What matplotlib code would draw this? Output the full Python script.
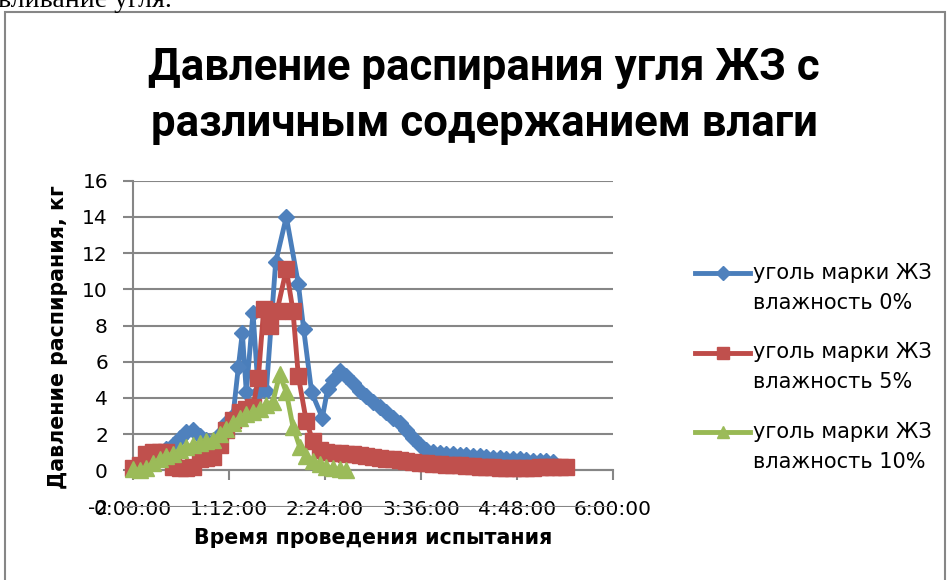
import numpy as np
import matplotlib
matplotlib.use("Agg")
import matplotlib.pyplot as plt
from matplotlib.lines import Line2D
from matplotlib.patches import Rectangle
from matplotlib.ticker import FuncFormatter

plt.rcParams["axes.unicode_minus"] = False

W, H = 947, 580

# Time from the start of the test, minutes, and swelling pressure, kg
t_0 = [0, 5, 10, 15, 20, 25, 30, 35, 40, 45, 50, 55, 60, 65, 70, 75,
       79, 82, 85, 90, 94, 100, 107, 115, 124, 128, 134, 142, 146, 150, 155,
       160, 165, 170, 175, 180, 185, 190, 195, 200, 205, 210, 215, 220, 225,
       230, 235, 240, 245, 250, 255, 260, 265, 270, 275, 280, 285, 290, 295,
       300, 305, 310, 315]
p_0 = [0.2, 0.4, 0.6, 0.8, 1.0, 1.2, 1.4, 1.8, 2.1, 2.2, 1.9, 1.7, 1.6, 2.0, 2.6, 3.0,
       5.7, 7.6, 4.3, 8.7, 4.3, 4.4, 11.5, 14.0, 10.3, 7.8, 4.3, 2.9, 4.5, 5.0, 5.5,
       5.2, 4.8, 4.4, 4.1, 3.8, 3.5, 3.2, 2.9, 2.6, 2.2, 1.8, 1.4, 1.1, 1.0,
       0.95, 0.9, 0.9, 0.85, 0.85, 0.8, 0.8, 0.75, 0.7, 0.7, 0.65, 0.6, 0.6, 0.55,
       0.5, 0.5, 0.5, 0.45]

t_5 = [0, 5, 10, 15, 20, 25, 30, 35, 40, 45, 50, 55, 60, 65, 70, 75, 80, 85, 90,
       94, 98, 103, 108, 115, 120, 124, 130, 135, 140, 145,
       150, 155, 160, 165, 170, 175, 180, 185, 190, 195, 200, 205, 210, 215,
       220, 225, 230, 235, 240, 245, 250, 255, 260, 265, 270, 275, 280, 285,
       290, 295, 300, 305, 310, 315, 320, 325]
p_5 = [0.1, 0.3, 0.9, 1.0, 1.0, 1.0, 0.2, 0.15, 0.15, 0.2, 0.6, 0.7, 0.75, 1.4, 2.2, 2.8, 3.2, 3.4, 3.5,
       5.1, 8.9, 8.0, 8.8, 11.1, 8.8, 5.2, 2.7, 1.6, 1.1, 1.0,
       0.95, 0.95, 0.9, 0.9, 0.85, 0.8, 0.75, 0.7, 0.65, 0.6, 0.55, 0.5, 0.45, 0.4,
       0.4, 0.35, 0.35, 0.3, 0.3, 0.3, 0.25, 0.25, 0.2, 0.2, 0.2, 0.15, 0.15, 0.15,
       0.15, 0.15, 0.15, 0.2, 0.2, 0.2, 0.2, 0.2]

t_10 = [0, 5, 10, 15, 20, 25, 30, 35, 40, 45, 50, 55, 60, 65, 70, 75, 80,
        85, 90, 95, 100, 105, 110, 115, 120, 125, 130, 135, 140, 145, 150, 155, 160]
p_10 = [0.05, 0.0, 0.1, 0.4, 0.6, 0.8, 0.9, 1.1, 1.3, 1.4, 1.5, 1.6, 1.7, 2.0, 2.3, 2.6, 2.9,
        3.1, 3.2, 3.4, 3.6, 3.8, 5.3, 4.3, 2.4, 1.3, 0.8, 0.5, 0.35, 0.2, 0.1, 0.05, 0.0]

labels = [("уголь марки ЖЗ", "влажность 0%"),
          ("уголь марки ЖЗ", "влажность 5%"),
          ("уголь марки ЖЗ", "влажность 10%")]

x_ticks = [0, 72, 144, 216, 288, 360]
y_ticks = list(range(-2, 17, 2))

GRID = "#868686"
styles = [
    dict(color="#4A7EBB", mfc="#4F81BD", mec="#4F81BD", marker="D", ms=8.5),
    dict(color="#BE4B48", mfc="#C0504D", mec="#C0504D", marker="s", ms=11),
    dict(color="#98B954", mfc="#9BBB59", mec="#9BBB59", marker="^", ms=11),
]
LW = 3.5


def px(x, y):
    """pixel position -> figure fraction"""
    return x / W, 1 - y / H


def hms(m, pos=None):
    m = int(round(m))
    return f"{m // 60}:{m % 60:02d}:00"


fig = plt.figure(figsize=(W / 100, H / 100), dpi=100)

left, top = px(133, 180.7)
right, bottom = px(613, 506.5)
ax = fig.add_axes([left, bottom, right - left, top - bottom])

series = [(t_0, p_0), (t_5, p_5), (t_10, p_10)]
for (t, p), st in zip(series, styles):
    ax.plot(t, p, lw=LW, zorder=3, clip_on=False, **st)

ax.set_xlim(0, 360)
ax.set_ylim(-2, 16)
ax.set_xticks(x_ticks)
ax.set_yticks(y_ticks)
ax.xaxis.set_major_formatter(FuncFormatter(hms))

ax.yaxis.grid(True, color=GRID, lw=1.5)
ax.set_axisbelow(True)
for side in ("top", "right"):
    ax.spines[side].set_visible(False)
ax.spines["left"].set_color(GRID)
ax.spines["left"].set_linewidth(1.5)
ax.spines["left"].set_bounds(0, 16)
ax.spines["bottom"].set_position(("data", 0))
ax.spines["bottom"].set_color(GRID)
ax.spines["bottom"].set_linewidth(1.5)

ax.tick_params(axis="y", length=7.2, width=1.5, color=GRID, pad=10.8, labelsize=14.5)
ax.tick_params(axis="x", length=7.2, width=1.5, color=GRID, pad=14, labelsize=14.5)

# titles and axis names
title_font = dict(family=["Liberation Sans Narrow", "Roboto", "DejaVu Sans"],
                  weight="bold", fontsize=31.5, ha="center", va="baseline")
fig.text(*px(484, 80), "Давление распирания угля ЖЗ с", **title_font)
fig.text(*px(484, 136), "различным содержанием влаги", **title_font)

fig.text(*px(373, 538), "Время проведения испытания", ha="center", va="center",
         fontsize=14.8, weight="bold")
fig.text(*px(58, 337), "Давление распирания, кг", ha="center", va="center",
         rotation=90, fontsize=14.8, weight="bold")

# legend drawn by hand to keep the two-line labels aligned like the original
for i, ((l1, l2), st) in enumerate(zip(labels, styles)):
    y = 273 + 79.5 * i
    x0, yy = px(695, y)
    x1, _ = px(750, y)
    xm, _ = px(722.5, y)
    fig.add_artist(Line2D([x0, x1], [yy, yy], transform=fig.transFigure,
                          color=st["color"], lw=LW))
    fig.add_artist(Line2D([xm], [yy], transform=fig.transFigure, lw=0,
                          marker=st["marker"], ms=st["ms"] * 0.8,
                          mfc=st["mfc"], mec=st["mec"]))
    fig.text(*px(753, y), l1, va="center", fontsize=15)
    fig.text(*px(753, y + 30), l2, va="center", fontsize=15)

# chart frame and the line of document text above it
fig.add_artist(Rectangle(px(5, 620), 940 / W, 608 / H, transform=fig.transFigure,
                         fill=False, ec=GRID, lw=1.5))
fig.text(*px(-2, 7), "вливание угля.", family="Liberation Serif", fontsize=20,
         va="baseline", ha="left")

fig.savefig("out.png", dpi=100)
